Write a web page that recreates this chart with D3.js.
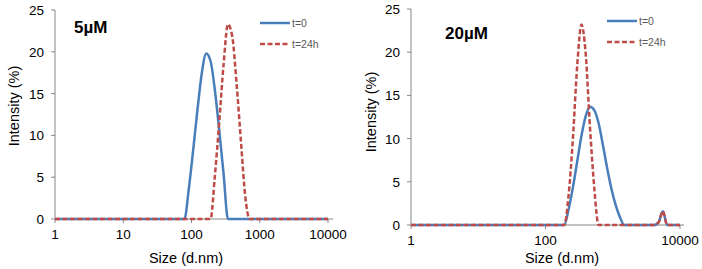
<!DOCTYPE html>
<html>
<head>
<meta charset="utf-8">
<script src="https://cdn.jsdelivr.net/npm/d3@7"></script>
<style>
  body { margin: 0; background: #fff; }
  svg { display: block; font-family: "Liberation Sans", Arial, sans-serif; }
</style>
</head>
<body>
<svg id="chart" width="702" height="269"></svg>
<script>
// size bins (d.nm) shared by both measurements
const sizes = [1, 78.82, 91.28, 105.7, 122.4, 141.8, 164.2, 190.1, 220.2, 255.0, 295.3, 342.0, 396.1,
  458.7, 531.2, 615.1, 712.4, 825.0, 955.4, 1106, 1281, 1484, 4145, 4801, 5560, 6439, 10000];

// 5 uM
const left_t0 = [0, 0, 3.6, 8.2, 13.1, 17.5, 19.8, 18.9, 15.4, 10.6, 5.4, 0, 0,
  0, 0, 0, 0, 0, 0, 0, 0, 0, 0, 0, 0, 0, 0];
const left_t24 = [0, 0, 0, 0, 0, 0, 0, 0, 5.2, 11.6, 18.5, 23.3, 21.8,
  16.1, 9.2, 2.6, 0, 0, 0, 0, 0, 0, 0, 0, 0, 0, 0];

// 20 uM
const right_t0 = [0, 0, 0, 0, 0, 0, 0, 0, 1.8, 4.3, 7.3, 10.3, 12.6,
  13.7, 13.3, 11.8, 9.3, 6.6, 4.2, 2.3, 0.9, 0, 0, 0.3, 1.6, 0, 0];
const right_t24 = [0, 0, 0, 0, 0, 0, 0, 0, 3.4, 9.9, 18.3, 23.2, 19.8,
  11.3, 4.3, 0, 0, 0, 0, 0, 0, 0, 0, 0.3, 1.6, 0, 0];

const yTicks = [0, 5, 10, 15, 20, 25];
const leftXTicks = [1, 10, 100, 1000, 10000];
const rightXTicks = [1, 100, 10000];
const seriesNames = ["t=0", "t=24h"];

const svg = d3.select("#chart");
const axisColor = "#868686";
const blue = "#4a7ebb";
const red = "#be4b48";

function drawPanel(p) {
  const x = d3.scaleLog().domain([1, 10000]).range([p.x0, p.x1]);
  const y = d3.scaleLinear().domain([0, 25]).range([p.y0, p.y1]);
  const g = svg.append("g");

  // y axis
  g.append("line")
    .attr("x1", p.x0).attr("x2", p.x0)
    .attr("y1", p.y0).attr("y2", p.y1)
    .attr("stroke", axisColor);
  g.selectAll(".yt").data(yTicks).enter().append("line")
    .attr("x1", p.x0 - 4).attr("x2", p.x0)
    .attr("y1", d => y(d)).attr("y2", d => y(d))
    .attr("stroke", axisColor);
  g.selectAll(".yl").data(yTicks).enter().append("text")
    .attr("x", p.x0 - 11).attr("y", d => y(d) + 5)
    .attr("text-anchor", "end")
    .attr("font-size", "13.5px")
    .text(d => d);

  // x axis
  g.append("line")
    .attr("x1", p.x0).attr("x2", p.xEnd)
    .attr("y1", p.y0).attr("y2", p.y0)
    .attr("stroke", axisColor);
  g.selectAll(".xt").data(p.xTicks).enter().append("line")
    .attr("x1", d => x(d)).attr("x2", d => x(d))
    .attr("y1", p.y0).attr("y2", p.y0 + 4)
    .attr("stroke", axisColor);
  g.selectAll(".xl").data(p.xTicks).enter().append("text")
    .attr("x", d => x(d)).attr("y", p.y0 + 20)
    .attr("text-anchor", "middle")
    .attr("font-size", "13.5px")
    .text(d => d);

  // axis titles
  g.append("text")
    .attr("x", p.xTitleX).attr("y", 263)
    .attr("text-anchor", "middle")
    .attr("font-size", "14.5px")
    .text("Size (d.nm)");
  g.append("text")
    .attr("transform", `translate(${p.yTitleX},${p.yTitleY}) rotate(-90)`)
    .attr("text-anchor", "middle")
    .attr("font-size", "14.5px")
    .text("Intensity (%)");

  // curves
  const line = d3.line()
    .x(d => x(d[0]))
    .y(d => y(d[1]))
    .curve(d3.curveMonotoneX);

  g.append("path")
    .datum(d3.zip(sizes, p.t0))
    .attr("d", line)
    .attr("fill", "none")
    .attr("stroke", blue)
    .attr("stroke-width", 2.5);
  g.append("path")
    .datum(d3.zip(sizes, p.t24))
    .attr("d", line)
    .attr("fill", "none")
    .attr("stroke", red)
    .attr("stroke-width", 2.5)
    .attr("stroke-dasharray", "5,2.5");

  // panel title
  g.append("text")
    .attr("x", p.titleX).attr("y", p.titleY)
    .attr("font-size", "17px")
    .attr("font-weight", "bold")
    .text(p.title);

  // legend
  const legend = g.selectAll(".lg").data(seriesNames).enter().append("g");
  legend.append("line")
    .attr("x1", p.legX).attr("x2", p.legX + 30)
    .attr("y1", (d, i) => p.legY + i * 21).attr("y2", (d, i) => p.legY + i * 21)
    .attr("stroke", (d, i) => i ? red : blue)
    .attr("stroke-width", 2.5)
    .attr("stroke-dasharray", (d, i) => i ? "5,2.5" : null);
  legend.append("text")
    .attr("x", p.legX + 32).attr("y", (d, i) => p.legY + i * 21 + 4)
    .attr("font-size", "10.5px")
    .attr("fill", "#595959")
    .text(d => d);
}

drawPanel({
  x0: 55, x1: 328, xEnd: 333, y0: 219, y1: 10,
  xTicks: leftXTicks, t0: left_t0, t24: left_t24,
  xTitleX: 186, yTitleX: 19, yTitleY: 106,
  title: "5\u00b5M", titleX: 74, titleY: 33,
  legX: 260, legY: 23
});

drawPanel({
  x0: 411, x1: 680, xEnd: 684, y0: 225, y1: 9,
  xTicks: rightXTicks, t0: right_t0, t24: right_t24,
  xTitleX: 562, yTitleX: 376, yTitleY: 112,
  title: "20\u00b5M", titleX: 445, titleY: 39,
  legX: 607, legY: 21
});
</script>
</body>
</html>
